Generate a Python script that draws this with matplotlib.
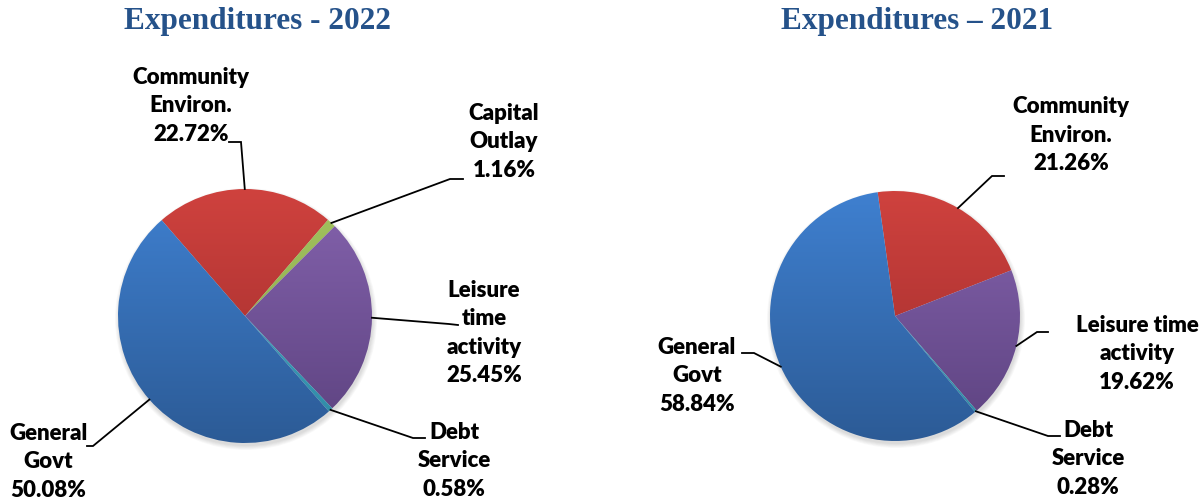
import numpy as np
import matplotlib
matplotlib.use("Agg")
import matplotlib.pyplot as plt
from matplotlib.colors import LinearSegmentedColormap
from matplotlib.patches import Circle

# ---------------- data ----------------
titles = ["Expenditures - 2022", "Expenditures \u2013 2021"]

cats_2022 = ["Community\nEnviron.", "Capital\nOutlay", "Leisure\ntime\nactivity", "Debt\nService", "General\nGovt"]
vals_2022 = [22.72, 1.16, 25.45, 0.58, 50.08]

cats_2021 = ["Community\nEnviron.", "Leisure time\nactivity", "Debt\nService", "General\nGovt"]
vals_2021 = [21.26, 19.62, 0.28, 58.84]

# ---------------- style / layout ----------------
W, H = 1202, 502
grad_colors = {  # (top, bottom)
    "Community": ("#cf423e", "#9c2b2b"),
    "Capital": ("#a3c35f", "#86a548"),
    "Leisure": ("#8563ae", "#5c427f"),
    "Debt": ("#4fb3cf", "#2d88a3"),
    "General": ("#3f80d0", "#2c5b96"),
}
title_color = "#25528a"
label_font = dict(family="Lato", weight="heavy", size=16, color="black")

fig = plt.figure(figsize=(W / 100, H / 100), dpi=100)
ax = fig.add_axes([0, 0, 1, 1])


def Y(y):
    return H - y


def draw_pie(cats, vals, cx, cy, r, start, label_pos, leaders):
    cyy = Y(cy)
    # soft shadow
    for k in range(6):
        ax.add_patch(Circle((cx + 1, cyy - 3), r + k * 0.8, color="black",
                            alpha=0.025, lw=0, zorder=1))
    wedges, _ = ax.pie(vals, startangle=start, counterclock=False,
                       center=(cx, cyy), radius=r,
                       wedgeprops=dict(linewidth=0), frame=True)
    grad = np.linspace(0, 1, 256).reshape(-1, 1)
    for w, cat in zip(wedges, cats):
        key = cat.split()[0]
        top, bot = grad_colors[key]
        cmap = LinearSegmentedColormap.from_list(key, [bot, top])
        w.set_facecolor("none")
        w.set_zorder(2)
        im = ax.imshow(grad, cmap=cmap, origin="lower", aspect="auto",
                       extent=(cx - r, cx + r, cyy - r, cyy + r), zorder=2,
                       interpolation="bilinear")
        im.set_clip_path(w)
    for w, cat, val, (tx, ty), pts in zip(wedges, cats, vals, label_pos, leaders):
        ax.text(tx, Y(ty), f"{cat}\n{val:.2f}%", ha="center", va="center",
                linespacing=1.42, zorder=5, **label_font)
        mid = np.deg2rad((w.theta1 + w.theta2) / 2)
        ax_ = cx + r * np.cos(mid)
        ay_ = cyy + r * np.sin(mid)
        xs = [p[0] for p in pts] + [ax_]
        ys = [Y(p[1]) for p in pts] + [ay_]
        ax.plot(xs, ys, color="black", lw=1.3, zorder=4, solid_joinstyle="miter")


# 2022 pie
draw_pie(cats_2022, vals_2022, 245, 317, 127, 131,
         label_pos=[(191, 106), (504, 142), (484, 333), (454, 461), (48, 462)],
         leaders=[[(229, 143), (241, 143)],
                  [(463, 180), (450, 180)],
                  [(458, 326), (449, 325)],
                  [(425, 439), (413, 439)],
                  [(87, 447), (93, 447)]])

# 2021 pie
draw_pie(cats_2021, vals_2021, 895, 317, 125, 98,
         label_pos=[(1071, 135), (1137, 354), (1088, 459), (697, 376)],
         leaders=[[(1004, 177), (992, 177)],
                  [(1048, 333), (1037, 333)],
                  [(1060, 437), (1048, 437)],
                  [(742, 354), (754, 354)]])

ax.text(257, Y(22), titles[0], ha="center", va="center", family="Liberation Serif",
        weight="bold", size=22.5, color=title_color)
ax.text(917, Y(22), titles[1], ha="center", va="center", family="Liberation Serif",
        weight="bold", size=22.5, color=title_color)

ax.set_xlim(0, W)
ax.set_ylim(0, H)
ax.set_aspect("auto")
ax.axis("off")

fig.savefig("out.png", dpi=100, facecolor="white")
